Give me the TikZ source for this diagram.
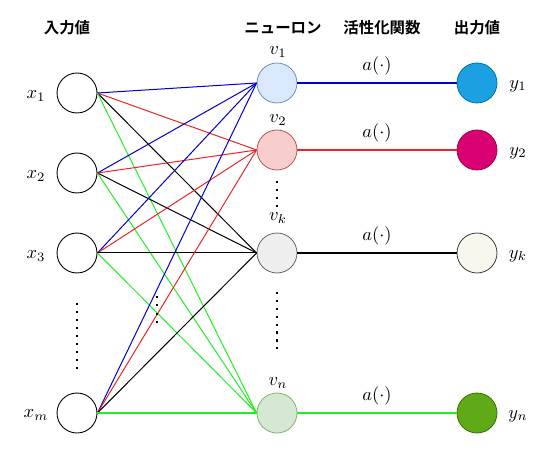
\documentclass[tikz,border=0pt]{standalone}
\usepackage{fontspec}
\newfontfamily\jpfont{Noto Sans CJK JP}[BoldFont={Noto Sans CJK JP Bold}]
\begin{document}
\begin{tikzpicture}[x=1bp,y=-1bp,
  inp/.style={circle,draw=black,fill=white,line width=0.9pt,minimum size=40bp,inner sep=0pt},
  neu/.style={circle,line width=0.8pt,minimum size=40bp,inner sep=0pt},
  lbl/.style={scale=1.85,inner sep=0pt},
  hdr/.style={font=\jpfont\bfseries\fontsize{15.5}{17}\selectfont,inner sep=0pt},
  wire/.style={line width=1bp},
  hwire/.style={line width=1.2bp},
  dotmark/.style={fill=black,minimum size=2.2bp,inner sep=0pt,rectangle}
]
\definecolor{cblue}{HTML}{0000CC}
\definecolor{cred}{HTML}{E8262A}
\definecolor{cgreen}{HTML}{22EE22}
\useasboundingbox (0,0) rectangle (549,453);
% headers
\node[hdr] (h1) at (67,28) {入力値};
\node[hdr] (h2) at (283,28) {ニューロン};
\node[hdr] (h3) at (382,28) {活性化関数};
\node[hdr] (h4) at (477,28) {出力値};
% inputs
\node[inp] (x1) at (77,93) {};
\node[inp] (x2) at (77,173) {};
\node[inp] (x3) at (77,253) {};
\node[inp] (xm) at (77,413) {};
\node[lbl] (lx1) at (36,96) {$x_1$};
\node[lbl] (lx2) at (36,176) {$x_2$};
\node[lbl] (lx3) at (36,256) {$x_3$};
\node[lbl] (lxm) at (36,415) {$x_m$};
% neurons
\node[neu,draw={rgb,255:red,108;green,142;blue,191},fill={rgb,255:red,218;green,232;blue,252}] (v1) at (277,83) {};
\node[neu,draw={rgb,255:red,184;green,84;blue,80},fill={rgb,255:red,248;green,206;blue,204}] (v2) at (277,150) {};
\node[neu,draw={rgb,255:red,102;green,102;blue,102},fill={rgb,255:red,238;green,238;blue,238}] (vk) at (277,253) {};
\node[neu,draw={rgb,255:red,130;green,179;blue,102},fill={rgb,255:red,213;green,232;blue,212}] (vn) at (277,413) {};
\node[lbl] (lv1) at (278,52) {$v_1$};
\node[lbl] (lv2) at (278,120) {$v_2$};
\node[lbl] (lvk) at (278,218) {$v_k$};
\node[lbl] (lvn) at (278,383) {$v_n$};
% outputs
\node[neu,draw={rgb,255:red,0;green,110;blue,175},fill={rgb,255:red,27;green,161;blue,226}] (y1) at (477,83) {};
\node[neu,draw={rgb,255:red,165;green,0;blue,64},fill={rgb,255:red,216;green,0;blue,115}] (y2) at (477,150) {};
\node[neu,draw={rgb,255:red,54;green,57;blue,61},fill={rgb,255:red,249;green,247;blue,237}] (yk) at (477,253) {};
\node[neu,draw={rgb,255:red,45;green,118;blue,0},fill={rgb,255:red,96;green,169;blue,23}] (yn) at (477,413) {};
\node[lbl] (ly1) at (518,86) {$y_1$};
\node[lbl] (ly2) at (518,153) {$y_2$};
\node[lbl] (lyk) at (518,256) {$y_k$};
\node[lbl] (lyn) at (518,416) {$y_n$};
% activation labels
\node[lbl] (a1) at (377,66) {$a(\cdot)$};
\node[lbl] (a2) at (377,133) {$a(\cdot)$};
\node[lbl] (ak) at (377,236) {$a(\cdot)$};
\node[lbl] (an) at (377,396) {$a(\cdot)$};
% connections input -> neuron
\foreach \i in {x1,x2,x3}{
  \draw[wire,cblue] (\i.east) -- (v1.west);
  \draw[wire,cred] (\i.east) -- (v2.west);
  \draw[wire,black] (\i.east) -- (vk.west);
  \draw[wire,cgreen] (\i.east) -- (vn.west);
}
\draw[wire,cblue] (xm.east) -- (v1.west);
\draw[wire,cred] (xm.east) -- (v2.west);
\draw[wire,black] (xm.east) -- (vk.west);
\draw[hwire,cgreen] (xm.east) -- (vn.west);
% neuron -> output
\draw[hwire,cblue] (v1) -- (y1);
\draw[hwire,cred] (v2) -- (y2);
\draw[hwire,black] (vk) -- (yk);
\draw[hwire,cgreen] (vn) -- (yn);
% dots
\foreach \k in {0,...,8}{ \node[dotmark] at (77,304+8*\k) {}; }
\foreach \k in {0,...,3}{ \node[dotmark] at (157,297+8.3*\k) {}; }
\foreach \k in {0,...,3}{ \node[dotmark] at (277,182+8*\k) {}; }
\foreach \k in {0,...,7}{ \node[dotmark] at (277,293+7.9*\k) {}; }
\end{tikzpicture}
\end{document}
